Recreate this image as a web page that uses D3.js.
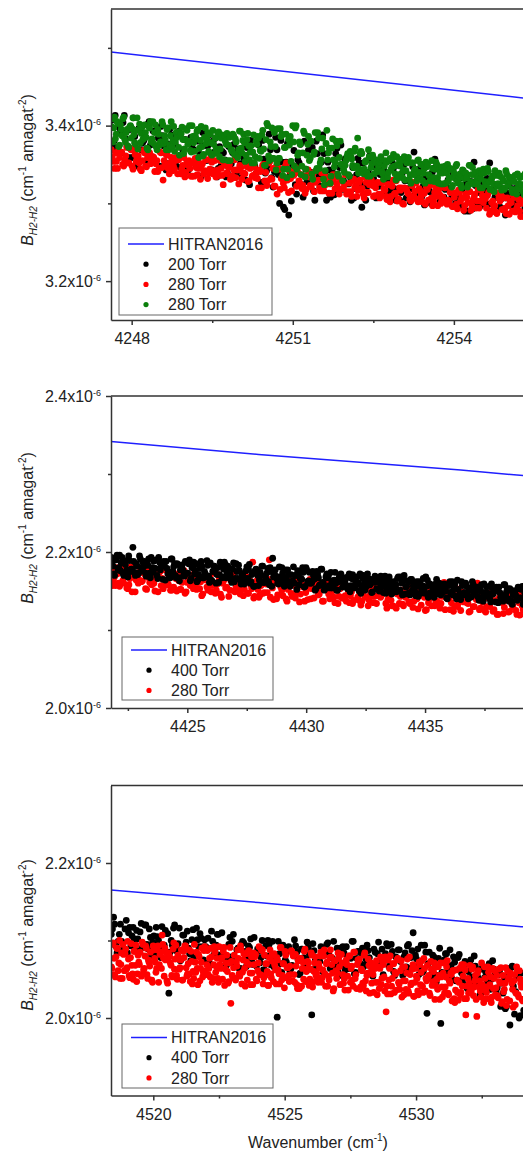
<!DOCTYPE html>
<html>
<head>
<meta charset="utf-8">
<script src="https://cdn.jsdelivr.net/npm/d3@7"></script>
<style>
  html, body { margin: 0; padding: 0; background: #fff; }
  svg { display: block; font-family: "Liberation Sans", Arial, sans-serif; }
</style>
</head>
<body>
<svg id="chart" width="523" height="1158"></svg>
<script>
// Pressure-broadening coefficients B(H2-H2), stored in units of 1e-9 cm^-1 amagat^-2.
// Each spectrum is sampled on a uniform wavenumber grid (start, step); the samples are
// kept as two arrays, the even-numbered points and the odd-numbered points.

// ---- Panel 1: 4248 cm^-1 region ----
const p1Start = 4247.62;
const p1Step200 = 0.0243, p1Step280a = 0.0193, p1Step280b = 0.0155;
const p1Torr200Even = [
  3407,3380,3368,3398,3365,3413,3374,3395,3359,3386,
  3348,3396,3378,3369,3402,3375,3393,3354,3384,3399,
  3374,3343,3376,3388,3357,3348,3393,3362,3382,3346,
  3352,3371,3383,3346,3363,3391,3341,3374,3355,3380,
  3384,3345,3348,3365,3334,3373,3351,3376,3339,3362,
  3333,3357,3372,3324,3366,3348,3378,3342,3381,3339,
  3349,3369,3321,3385,3337,3381,3295,3353,3285,3303,
  3368,3312,3352,3324,3380,3328,3340,3372,3304,3364,
  3322,3388,3336,3353,3308,3339,3364,3318,3375,3329,
  3358,3325,3304,3307,3337,3352,3295,3340,3322,3361,
  3324,3347,3309,3337,3351,3314,3329,3316,3344,3304,
  3334,3314,3349,3307,3329,3319,3366,3337,3344,3309,
  3298,3335,3315,3340,3357,3328,3303,3345,3318,3330,
  3318,3338,3300,3308,3333,3295,3325,3290,3328,3353,
  3297,3314,3328,3301,3332,3352,3317,3308,3323,3295,
  3315,3285,3313,3305,3293,3319,3299,3323,3289,3309
];
const p1Torr200Odd = [
  3374,3413,3365,3392,3404,3383,3359,3398,3410,3371,
  3396,3369,3381,3354,3405,3360,3393,3372,3348,3387,
  3365,3351,3396,3357,3376,3388,3346,3368,3382,3343,
  3385,3369,3349,3380,3335,3374,3355,3388,3343,3366,
  3334,3373,3367,3356,3339,3387,3365,3342,3370,3351,
  3360,3330,3372,3381,3348,3339,3375,3327,3357,3342,
  3389,3333,3341,3369,3300,3353,3292,3377,3337,3349,
  3324,3356,3376,3308,3344,3368,3340,3316,3380,3336,
  3353,3364,3304,3343,3329,3311,3371,3346,3318,3357,
  3313,3334,3346,3319,3358,3325,3352,3304,3340,3355,
  3332,3307,3322,3347,3342,3314,3324,3354,3319,3349,
  3304,3339,3329,3319,3302,3347,3312,3332,3342,3322,
  3333,3318,3300,3345,3310,3325,3340,3308,3320,3303,
  3308,3335,3330,3298,3318,3290,3325,3328,3293,3323,
  3330,3297,3310,3317,3299,3328,3290,3308,3323,3306,
  3293,3307,3323,3297,3319,3301,3311,3289,3295,3325
];
const p1Torr280aEven = [
  3369,3354,3365,3345,3359,3366,3348,3361,3352,3371,
  3348,3369,3354,3361,3344,3355,3365,3347,3359,3351,
  3360,3341,3355,3345,3365,3330,3351,3362,3338,3359,
  3348,3355,3338,3361,3344,3359,3340,3349,3345,3335,
  3335,3346,3353,3331,3351,3342,3356,3339,3358,3338,
  3355,3335,3336,3345,3324,3349,3338,3350,3332,3343,
  3333,3343,3349,3331,3339,3353,3328,3345,3335,3347,
  3340,3320,3341,3349,3329,3323,3352,3332,3345,3322,
  3312,3344,3332,3326,3348,3330,3342,3316,3336,3346,
  3340,3326,3319,3335,3318,3343,3323,3334,3315,3329,
  3330,3316,3339,3323,3333,3313,3327,3337,3319,3325,
  3312,3329,3319,3337,3315,3326,3309,3331,3323,3317,
  3330,3319,3307,3327,3314,3333,3323,3310,3326,3312,
  3312,3327,3317,3305,3324,3309,3330,3313,3303,3320,
  3320,3299,3319,3313,3305,3323,3309,3326,3302,3316,
  3302,3313,3321,3304,3324,3297,3314,3309,3318,3300,
  3308,3320,3299,3303,3317,3296,3313,3293,3314,3307,
  3291,3312,3301,3315,3297,3308,3294,3318,3303,3310,
  3306,3294,3314,3290,3303,3297,3287,3307,3311,3292,
  3294,3307,3286,3301,3310,3289,3297,3290,3305,3283
];
const p1Torr280aOdd = [
  3359,3345,3354,3368,3365,3350,3355,3372,3352,3369,
  3344,3363,3358,3352,3342,3368,3348,3359,3365,3354,
  3359,3351,3341,3366,3346,3355,3363,3345,3352,3342,
  3344,3359,3356,3338,3349,3334,3354,3355,3335,3352,
  3358,3337,3345,3349,3338,3356,3332,3344,3353,3342,
  3334,3343,3355,3336,3352,3339,3346,3331,3335,3356,
  3343,3325,3346,3339,3338,3347,3329,3350,3336,3333,
  3332,3343,3320,3350,3340,3329,3354,3331,3322,3347,
  3346,3318,3334,3320,3352,3314,3332,3340,3338,3322,
  3329,3337,3323,3313,3335,3334,3321,3339,3327,3343,
  3320,3339,3316,3329,3334,3325,3313,3332,3337,3319,
  3331,3319,3324,3312,3336,3315,3330,3320,3309,3327,
  3319,3312,3334,3314,3324,3330,3309,3320,3327,3307,
  3327,3319,3309,3324,3302,3322,3312,3329,3306,3317,
  3300,3320,3317,3312,3303,3327,3316,3305,3319,3309,
  3313,3299,3318,3323,3307,3303,3320,3297,3311,3304,
  3321,3301,3304,3314,3296,3308,3299,3317,3303,3307,
  3297,3308,3315,3291,3304,3312,3303,3294,3317,3301,
  3306,3310,3286,3301,3296,3289,3313,3303,3292,3307,
  3287,3297,3303,3290,3308,3293,3305,3283,3300,3307
];
const p1Torr280bEven = [
  3399,3379,3411,3389,3403,3375,3395,3409,3383,3391,
  3374,3398,3384,3410,3378,3394,3370,3402,3390,3382,
  3401,3385,3369,3397,3379,3405,3391,3373,3395,3375,
  3379,3401,3387,3369,3397,3375,3405,3381,3367,3391,
  3392,3362,3390,3382,3370,3396,3376,3400,3366,3386,
  3367,3383,3395,3371,3399,3361,3385,3377,3391,3365,
  3378,3394,3364,3370,3390,3360,3384,3356,3386,3376,
  3355,3385,3369,3389,3363,3379,3359,3393,3371,3381,
  3378,3362,3390,3356,3374,3366,3352,3380,3386,3358,
  3367,3394,3349,3382,3400,3355,3373,3358,3391,3343,
  3396,3358,3386,3336,3372,3389,3344,3375,3354,3400,
  3348,3400,3362,3379,3337,3365,3390,3344,3376,3355,
  3380,3331,3366,3342,3391,3345,3356,3384,3324,3377,
  3356,3371,3335,3383,3347,3380,3338,3359,3350,3329,
  3340,3355,3364,3335,3360,3349,3367,3346,3384,3344,
  3367,3342,3344,3355,3335,3360,3346,3362,3338,3353,
  3341,3353,3360,3338,3348,3365,3334,3355,3343,3358,
  3348,3330,3350,3357,3338,3333,3360,3342,3354,3331,
  3326,3352,3342,3337,3355,3340,3350,3329,3345,3353,
  3350,3336,3329,3345,3328,3353,3333,3344,3325,3339,
  3341,3326,3350,3333,3344,3323,3338,3348,3329,3334,
  3324,3343,3332,3339,3321,3349,3328,3346,3337,3325,
  3327,3342,3332,3320,3339,3324,3345,3328,3318,3335,
  3315,3336,3325,3339,3321,3332,3318,3342,3327,3334,
  3333,3314,3328,3318,3338,3319,3324,3335,3311,3332
];
const p1Torr280bOdd = [
  3409,3397,3383,3405,3373,3401,3387,3411,3379,3395,
  3372,3400,3396,3388,3376,3410,3394,3378,3398,3384,
  3391,3371,3399,3405,3383,3377,3401,3369,3389,3379,
  3405,3377,3381,3395,3369,3387,3373,3399,3379,3385,
  3372,3388,3398,3364,3382,3394,3380,3368,3400,3378,
  3387,3393,3359,3381,3373,3363,3397,3383,3367,3389,
  3362,3376,3384,3366,3392,3370,3388,3356,3380,3390,
  3375,3355,3367,3387,3383,3361,3369,3393,3365,3389,
  3354,3382,3374,3366,3352,3388,3360,3376,3384,3368,
  3388,3370,3349,3403,3361,3379,3397,3358,3373,3352,
  3358,3396,3389,3344,3372,3333,3382,3386,3337,3379,
  3397,3344,3365,3376,3348,3393,3334,3362,3386,3358,
  3338,3363,3391,3345,3384,3352,3370,3331,3342,3394,
  3365,3326,3371,3356,3353,3374,3335,3380,3350,3344,
  3349,3360,3337,3367,3357,3346,3371,3348,3339,3364,
  3364,3338,3353,3340,3369,3335,3351,3358,3356,3342,
  3348,3357,3341,3331,3355,3353,3340,3358,3346,3363,
  3338,3360,3333,3348,3355,3343,3330,3352,3359,3337,
  3352,3337,3344,3329,3356,3332,3350,3339,3326,3347,
  3337,3329,3355,3333,3344,3350,3326,3339,3347,3325,
  3348,3339,3329,3345,3321,3342,3332,3350,3326,3338,
  3320,3342,3339,3333,3324,3349,3337,3325,3340,3330,
  3334,3320,3339,3344,3328,3324,3341,3318,3332,3325,
  3342,3322,3325,3335,3317,3329,3320,3338,3324,3328,
  3318,3329,3336,3312,3325,3333,3324,3315,3338,3322
];
const hitranWn1 = [4247, 4250, 4253, 4256];
const hitranB1 = [3499.5, 3476.3, 3453.1, 3430.0];
const xTicks1 = [4248, 4251, 4254], xMinor1 = [4249.5, 4252.5];
const yTicks1 = [3200, 3400], yMinor1 = [3300, 3500];

// ---- Panel 2: 4430 cm^-1 region ----
const p2Start = 4421.8;
const p2Step400 = 0.035, p2Step280 = 0.04375;
const p2Torr400Even = [
  2193,2182,2170,2190,2177,2196,2186,2173,2189,2175,
  2168,2189,2178,2206,2174,2185,2171,2195,2180,2187,
  2188,2169,2183,2173,2193,2174,2179,2190,2166,2187,
  2181,2165,2182,2188,2172,2168,2191,2175,2185,2167,
  2184,2163,2183,2177,2169,2187,2173,2190,2166,2180,
  2172,2185,2164,2179,2188,2167,2175,2168,2183,2161,
  2164,2175,2182,2160,2180,2171,2185,2168,2187,2167,
  2182,2169,2164,2178,2162,2185,2166,2176,2159,2172,
  2159,2176,2166,2184,2162,2173,2156,2178,2170,2164,
  2170,2182,2161,2165,2179,2158,2175,2192,2176,2169,
  2160,2181,2166,2173,2156,2167,2177,2159,2171,2163,
  2160,2170,2176,2158,2166,2180,2155,2180,2162,2174,
  2160,2175,2165,2153,2172,2157,2178,2161,2151,2168,
  2167,2157,2174,2154,2164,2160,2151,2168,2172,2155,
  2161,2167,2153,2172,2157,2171,2154,2162,2159,2150,
  2147,2166,2159,2155,2172,2158,2165,2149,2161,2167,
  2162,2150,2169,2156,2164,2147,2159,2168,2152,2157,
  2149,2158,2166,2151,2168,2145,2170,2155,2163,2148,
  2165,2151,2161,2144,2156,2162,2147,2157,2150,2168,
  2164,2147,2148,2155,2142,2159,2149,2160,2145,2154,
  2159,2150,2140,2157,2146,2162,2153,2143,2164,2144,
  2139,2157,2148,2160,2144,2154,2142,2162,2149,2155,
  2155,2138,2150,2142,2159,2143,2147,2156,2136,2154,
  2149,2136,2151,2155,2142,2139,2158,2145,2153,2137,
  2151,2133,2150,2145,2138,2153,2141,2156,2135,2147
];
const p2Torr400Odd = [
  2186,2172,2191,2196,2180,2176,2193,2170,2184,2177,
  2195,2175,2178,2188,2170,2182,2173,2191,2177,2181,
  2173,2184,2191,2167,2180,2188,2179,2170,2193,2177,
  2184,2188,2164,2179,2174,2167,2191,2181,2170,2185,
  2167,2177,2183,2170,2188,2173,2185,2163,2180,2187,
  2176,2162,2171,2185,2182,2167,2172,2189,2169,2186,
  2163,2182,2177,2171,2161,2187,2167,2178,2184,2173,
  2179,2171,2161,2186,2166,2175,2183,2165,2172,2162,
  2166,2181,2178,2160,2171,2156,2176,2177,2157,2174,
  2182,2161,2169,2173,2162,2180,2156,2168,2177,2166,
  2159,2168,2180,2161,2177,2164,2171,2156,2160,2181,
  2170,2152,2173,2166,2165,2174,2156,2177,2163,2160,
  2161,2170,2151,2175,2167,2158,2178,2160,2153,2172,
  2170,2154,2163,2155,2174,2151,2162,2167,2166,2156,
  2161,2167,2156,2149,2166,2165,2155,2168,2160,2172,
  2154,2170,2151,2161,2166,2158,2148,2164,2169,2153,
  2165,2154,2159,2148,2169,2151,2164,2156,2146,2162,
  2155,2149,2168,2151,2160,2164,2146,2156,2162,2145,
  2165,2157,2149,2162,2143,2160,2151,2166,2147,2156,
  2142,2159,2157,2152,2145,2165,2155,2146,2158,2149,
  2153,2141,2158,2162,2149,2145,2159,2140,2152,2146,
  2162,2145,2148,2156,2140,2151,2143,2158,2146,2150,
  2142,2152,2158,2137,2148,2155,2147,2140,2159,2146,
  2152,2155,2135,2148,2143,2137,2158,2149,2140,2153,
  2137,2145,2150,2139,2155,2141,2152,2133,2147,2153
];
const p2Torr280Even = [
  2177,2163,2157,2172,2156,2180,2160,2171,2153,2166,
  2149,2173,2164,2160,2176,2163,2172,2152,2167,2175,
  2166,2150,2168,2174,2157,2153,2177,2160,2171,2151,
  2155,2166,2172,2152,2161,2176,2149,2167,2157,2170,
  2173,2152,2153,2162,2146,2167,2155,2168,2149,2161,
  2147,2159,2166,2142,2163,2154,2169,2151,2171,2150,
  2156,2164,2146,2170,2152,2168,2147,2158,2187,2143,
  2163,2142,2157,2147,2168,2148,2190,2165,2139,2162,
  2145,2167,2151,2158,2140,2152,2163,2143,2157,2148,
  2162,2146,2158,2137,2152,2159,2140,2153,2174,2164,
  2146,2160,2137,2154,2163,2140,2149,2142,2158,2134,
  2153,2141,2162,2137,2150,2144,2134,2155,2159,2138,
  2132,2154,2142,2157,2138,2150,2135,2160,2144,2151,
  2145,2157,2134,2139,2154,2131,2149,2128,2151,2143,
  2133,2145,2154,2136,2157,2129,2147,2140,2151,2132,
  2148,2125,2146,2140,2131,2151,2136,2154,2128,2143,
  2161,2150,2140,2126,2147,2131,2153,2135,2125,2143,
  2147,2135,2123,2144,2130,2150,2160,2126,2142,2127,
  2123,2141,2130,2150,2126,2138,2120,2144,2135,2129,
  2138,2123,2147,2130,2141,2120,2135,2145,2126,2132
];
const p2Torr280Odd = [
  2157,2168,2180,2160,2177,2163,2171,2154,2158,2181,
  2169,2149,2172,2164,2162,2173,2153,2176,2161,2158,
  2160,2169,2149,2175,2166,2157,2178,2158,2151,2172,
  2172,2150,2163,2152,2176,2147,2161,2167,2166,2153,
  2159,2167,2153,2144,2165,2164,2151,2168,2157,2173,
  2151,2171,2146,2160,2166,2155,2143,2163,2169,2149,
  2165,2151,2158,2144,2170,2147,2164,2153,2141,2161,
  2152,2145,2169,2148,2159,2165,2142,2154,2162,2140,
  2164,2155,2144,2161,2137,2158,2147,2166,2141,2154,
  2136,2158,2155,2148,2139,2165,2153,2141,2156,2145,
  2152,2137,2158,2163,2146,2141,2160,2135,2151,2143,
  2162,2141,2144,2155,2135,2149,2138,2158,2142,2147,
  2137,2150,2157,2131,2145,2154,2143,2134,2159,2142,
  2149,2154,2128,2145,2138,2131,2157,2146,2134,2151,
  2131,2142,2148,2134,2154,2137,2151,2127,2145,2153,
  2142,2126,2135,2151,2148,2131,2137,2155,2134,2152,
  2126,2147,2141,2135,2124,2152,2130,2143,2149,2136,
  2144,2134,2124,2151,2130,2139,2148,2128,2136,2125,
  2130,2147,2144,2124,2137,2120,2141,2143,2121,2140,
  2147,2124,2133,2138,2125,2145,2119,2131,2142,2130
];
const hitranWn2 = [4420, 4428, 4436.5, 4441];
const hitranB2 = [2346.6, 2325.0, 2305.0, 2293.0];
const xTicks2 = [4425, 4430, 4435], xMinor2 = [4422.5, 4427.5, 4432.5, 4437.5];
const yTicks2 = [2000, 2200, 2400], yMinor2 = [2100, 2300];

// ---- Panel 3: 4525 cm^-1 region ----
const p3Start = 4518.4;
const p3Step400 = 0.04385, p3Step280 = 0.02615;
const p3Torr400Even = [
  2108,2130,2093,2099,2121,2088,2115,2084,2117,2106,
  2102,2113,2087,2122,2095,2120,2089,2104,2098,2082,
  2105,2083,2118,2094,2109,2032,2100,2116,2087,2096,
  2074,2107,2090,2112,2083,2101,2079,2116,2092,2103,
  2075,2092,2103,2068,2099,2086,2108,2081,2110,2079,
  2068,2095,2079,2108,2073,2090,2064,2099,2086,2077,
  2091,2073,2104,2067,2086,2078,2062,2093,2100,2069,
  2099,2068,2001,2083,2059,2090,2072,2092,2064,2081,
  2093,2076,2058,2089,2069,2098,2082,2004,2087,2065,
  2073,2092,2059,2084,2097,2064,2077,2066,2090,2055,
  2068,2084,2092,2064,2077,2099,2059,2086,2070,2090,
  2069,2094,2078,2058,2089,2065,2098,2072,2056,2083,
  2093,2068,2086,2055,2077,2088,2060,2079,2066,2095,
  2078,2110,2081,2089,2065,2059,2094,2006,2085,2056,
  2079,2046,2077,1993,2055,2083,2061,2088,2050,2072,
  2049,2082,2058,2069,2042,2060,2075,2047,2067,2053,
  2030,2065,2052,2045,2070,2050,2063,2034,2056,2015,
  2032,2012,2063,1991,2067,2005,2052,2000,2058,2010
];
const p3Torr400Odd = [
  2115,2121,2084,2108,2099,2088,2126,2110,2093,2117,
  2087,2102,2111,2091,2120,2095,2115,2080,2106,2117,
  2100,2078,2091,2113,2109,2085,2094,2120,2089,2116,
  2076,2107,2098,2090,2074,2114,2083,2101,2109,2092,
  2101,2088,2072,2112,2081,2094,2108,2079,2090,2075,
  2079,2104,2099,2071,2088,2064,2095,2097,2066,2093,
  2102,2069,2082,2089,2071,2100,2062,2080,2095,2078,
  2066,2081,2099,2070,2094,2075,2086,2061,2068,2101,
  2085,2056,2089,2078,2076,2091,2063,2096,2074,2069,
  2073,2086,2057,2095,2081,2068,2099,2070,2059,2090,
  2092,2062,2079,2064,2099,2057,2077,2086,2084,2066,
  2076,2087,2067,2054,2085,2083,2065,2089,2074,2096,
  2066,2095,2060,2079,2088,2073,2055,2084,2093,2064,
  2087,2067,2076,2056,2094,2061,2085,2070,2052,2081,
  2066,2055,2090,2059,2075,2083,2050,2068,2079,2048,
  2078,2064,2049,2073,2038,2069,2053,2080,2045,2062,
  2032,2063,2059,2050,2037,2074,2056,2039,2061,2045,
  2049,2015,2058,2065,2041,2034,2060,2003,2047,2008
];
const p3Torr280Even = [
  2066,2095,2077,2053,2090,2061,2100,2069,2051,2082,
  2083,2063,2099,2055,2078,2068,2050,2086,2094,2057,
  2072,2085,2054,2095,2064,2093,2056,2075,2067,2049,
  2046,2088,2072,2064,2093,2069,2085,2107,2077,2090,
  2084,2045,2081,2071,2055,2089,2063,2094,2050,2076,
  2065,2088,2049,2078,2093,2054,2070,2057,2086,2044,
  2051,2072,2085,2043,2079,2064,2090,2059,2092,2056,
  2087,2064,2053,2079,2051,2092,2059,2077,2046,2069,
  2076,2050,2091,2063,2081,2045,2071,2019,2055,2065,
  2051,2072,2088,2057,2093,2044,2075,2064,2083,2049,
  2087,2058,2079,2043,2069,2082,2048,2071,2056,2089,
  2088,2052,2055,2070,2042,2078,2057,2081,2047,2068,
  2044,2075,2057,2091,2049,2070,2039,2081,2065,2055,
  2067,2087,2048,2056,2082,2043,2074,2038,2077,2064,
  2050,2089,2060,2073,2042,2063,2081,2047,2071,2055,
  2052,2070,2080,2046,2062,2088,2041,2072,2054,2078,
  2079,2058,2038,2074,2051,2084,2066,2043,2071,2045,
  2036,2075,2054,2080,2046,2067,2041,2085,2056,2069,
  2074,2037,2063,2045,2081,2048,2055,2076,2032,2071,
  2061,2033,2064,2074,2046,2038,2079,2051,2069,2035,
  2008,2031,2049,2080,2041,2070,2033,2057,2075,2046,
  2037,2074,2066,2030,2048,2058,2035,2079,2043,2063,
  2028,2046,2054,2035,2072,2043,2074,2033,2064,2051,
  2068,2055,2029,2063,2047,2071,2042,2050,2066,2024,
  2053,2027,2071,2040,2066,2032,2048,2058,2022,2061,
  2020,2062,2033,2046,2030,2069,2054,2025,2004,2041,
  2032,2068,2035,2066,2040,2055,2002,2061,2048,2027,
  2043,2020,2051,2033,2066,2025,2053,2027,2038,2061,
  2039,2029,2063,2045,2019,2055,2037,2065,2024,2050,
  2022,2056,2037,2048,2017,2066,2030,2061,2045,2024
];
const p3Torr280Odd = [
  2064,2097,2056,2079,2090,2071,2051,2084,2095,2061,
  2089,2065,2076,2052,2096,2057,2086,2068,2047,2081,
  2069,2056,2098,2062,2080,2090,2051,2072,2085,2049,
  2093,2077,2059,2088,2046,2082,2064,2095,2054,2075,
  2048,2084,2079,2068,2053,2097,2076,2055,2081,2063,
  2075,2049,2086,2093,2065,2057,2088,2047,2073,2060,
  2095,2059,2064,2082,2048,2072,2053,2087,2061,2069,
  2056,2077,2090,2046,2069,2085,2066,2051,2092,2064,
  2078,2086,2042,2071,2060,2047,2091,2073,2052,2081,
  2049,2067,2077,2054,2088,2059,2083,2041,2072,2085,
  2069,2043,2058,2084,2079,2050,2061,2092,2056,2087,
  2044,2081,2070,2060,2042,2088,2052,2073,2083,2062,
  2078,2062,2044,2091,2055,2070,2086,2052,2065,2047,
  2056,2085,2080,2046,2067,2038,2074,2077,2041,2072,
  2086,2047,2063,2071,2050,2084,2040,2060,2079,2058,
  2046,2065,2085,2052,2080,2057,2070,2041,2049,2088,
  2069,2035,2074,2061,2058,2077,2043,2082,2056,2051,
  2054,2069,2036,2080,2064,2049,2085,2051,2038,2075,
  2076,2040,2061,2042,2084,2035,2058,2068,2066,2045,
  2056,2069,2046,2030,2066,2064,2043,2072,2053,2079,
  2041,2075,2064,2031,2051,2070,2059,2036,2077,2044,
  2061,2027,2048,2066,2037,2076,2032,2056,2045,2069,
  2028,2064,2051,2030,2069,2059,2041,2077,2035,2048,
  2053,2032,2073,2042,2060,2024,2066,2037,2055,2071,
  2040,2058,2032,2053,2074,2030,2045,2056,2061,2025,
  2036,2049,2023,2064,2033,2041,2069,2062,2025,2051,
  2045,2037,2063,2029,2048,2024,2058,2040,2035,2071,
  2038,2066,2025,2040,2059,2043,2020,2064,2051,2030,
  2055,2026,2047,2065,2021,2034,2045,2016,2060,2052,
  2058,2045,2014,2056,2032,2061,2027,2050,2040,2022
];
const hitranWn3 = [4518, 4524, 4534, 4536];
const hitranB3 = [2166.3, 2149.0, 2117.8, 2111.8];
const xTicks3 = [4520, 4525, 4530], xMinor3 = [4522.5, 4527.5, 4532.5];
const yTicks3 = [2000, 2200], yMinor3 = [2100];

const hitranLabel = "HITRAN2016";

// ---- Layout ----
const BLUE = "#1f1fff", RED = "#ff0000", GREEN = "#0b7f0b", BLACK = "#000000";
const AXIS = "#333", TEXT = "#222";
const left = 111, right = 528;

// rebuild the full sample sequence from its even and odd halves
function interleave(even, odd) {
  const out = [];
  even.forEach((v, i) => { out.push(v); if (i < odd.length) out.push(odd[i]); });
  return out;
}

const panels = [
  {
    top: 9, bottom: 320, xDomain: [4247.615, 4255.38], yDomain: [3150, 3550],
    xMajor: xTicks1, xMinor: xMinor1, yMajor: yTicks1, yMinor: yMinor1,
    hitran: [hitranWn1, hitranB1],
    series: [
      { label: "200 Torr", color: BLACK, start: p1Start, step: p1Step200, values: interleave(p1Torr200Even, p1Torr200Odd) },
      { label: "280 Torr", color: RED, start: p1Start, step: p1Step280a, values: interleave(p1Torr280aEven, p1Torr280aOdd) },
      { label: "280 Torr", color: GREEN, start: p1Start, step: p1Step280b, values: interleave(p1Torr280bEven, p1Torr280bOdd) }
    ],
    order: [0, 1, 2],
    legend: { x: 119, y: 228, w: 153, h: 87, first: 16 },
    titleY: 170
  },
  {
    top: 396, bottom: 708, xDomain: [4421.79, 4439.33], yDomain: [2000, 2400],
    xMajor: xTicks2, xMinor: xMinor2, yMajor: yTicks2, yMinor: yMinor2,
    hitran: [hitranWn2, hitranB2],
    series: [
      { label: "400 Torr", color: BLACK, start: p2Start, step: p2Step400, values: interleave(p2Torr400Even, p2Torr400Odd) },
      { label: "280 Torr", color: RED, start: p2Start, step: p2Step280, values: interleave(p2Torr280Even, p2Torr280Odd) }
    ],
    order: [1, 0],
    legend: { x: 122, y: 637, w: 151, h: 63, first: 13 },
    titleY: 528
  },
  {
    top: 785.5, bottom: 1095.5, xDomain: [4518.39, 4534.26], yDomain: [1900, 2300],
    xMajor: xTicks3, xMinor: xMinor3, yMajor: yTicks3, yMinor: yMinor3,
    hitran: [hitranWn3, hitranB3],
    series: [
      { label: "400 Torr", color: BLACK, start: p3Start, step: p3Step400, values: interleave(p3Torr400Even, p3Torr400Odd) },
      { label: "280 Torr", color: RED, start: p3Start, step: p3Step280, values: interleave(p3Torr280Even, p3Torr280Odd) }
    ],
    order: [0, 1],
    legend: { x: 122, y: 1024, w: 151, h: 64, first: 13.5 },
    titleY: 935
  }
];

const svg = d3.select("#chart");
const defs = svg.append("defs");

function styleAxis(sel) {
  sel.attr("font-size", 16).attr("font-family", "'Liberation Sans', Arial, sans-serif");
  sel.selectAll("path, line").attr("stroke", AXIS).attr("stroke-width", 1.5);
  sel.selectAll("text").attr("fill", TEXT);
}

panels.forEach((p, pi) => {
  const x = d3.scaleLinear().domain(p.xDomain).range([left, right]);
  const y = d3.scaleLinear().domain(p.yDomain).range([p.bottom, p.top]);
  const g = svg.append("g");

  const clipId = "plot-clip-" + pi;
  defs.append("clipPath").attr("id", clipId)
    .append("rect").attr("x", left).attr("y", p.top)
    .attr("width", right - left).attr("height", p.bottom - p.top);

  // scatter series and reference line
  const plot = g.append("g").attr("clip-path", `url(#${clipId})`);
  p.order.forEach(si => {
    const s = p.series[si];
    plot.append("g").attr("fill", s.color)
      .selectAll("circle").data(s.values).join("circle")
      .attr("cx", (v, i) => x(s.start + i * s.step))
      .attr("cy", v => y(v))
      .attr("r", 3.4);
  });
  const hitranPts = p.hitran[0].map((w, i) => [w, p.hitran[1][i]]);
  plot.append("path")
    .attr("d", d3.line().x(d => x(d[0])).y(d => y(d[1]))(hitranPts))
    .attr("fill", "none").attr("stroke", BLUE).attr("stroke-width", 1.5);

  // frame: top and right edges
  g.append("path")
    .attr("d", `M${left},${p.top}H${right}V${p.bottom}`)
    .attr("fill", "none").attr("stroke", AXIS).attr("stroke-width", 1.5);

  // x axis
  const gx = g.append("g").attr("transform", `translate(0,${p.bottom})`)
    .call(d3.axisBottom(x).tickValues(p.xMajor).tickSize(5).tickSizeOuter(0).tickFormat(d3.format("d")));
  gx.selectAll(".tick text").attr("y", 13).attr("dy", "0.71em");
  const gxm = g.append("g").attr("transform", `translate(0,${p.bottom})`)
    .call(d3.axisBottom(x).tickValues(p.xMinor).tickSize(3).tickFormat(""));
  gxm.select(".domain").remove();
  styleAxis(gx); styleAxis(gxm);

  // y axis
  const gy = g.append("g").attr("transform", `translate(${left},0)`)
    .call(d3.axisLeft(y).tickValues(p.yMajor).tickSize(5).tickPadding(5).tickSizeOuter(0));
  gy.selectAll(".tick text").each(function (d) {
    const t = d3.select(this).text(null);
    t.append("tspan").text((d / 1000).toFixed(1) + "x10");
    t.append("tspan").attr("dy", -6).attr("font-size", 9).text("-6");
  });
  const gym = g.append("g").attr("transform", `translate(${left},0)`)
    .call(d3.axisLeft(y).tickValues(p.yMinor).tickSize(3).tickFormat(""));
  gym.select(".domain").remove();
  styleAxis(gy); styleAxis(gym);

  // y axis title
  const t = svg.append("text")
    .attr("transform", `translate(33,${p.titleY}) rotate(-90)`)
    .attr("text-anchor", "middle").attr("font-size", 16).attr("fill", TEXT);
  t.append("tspan").attr("font-style", "italic").text("B");
  t.append("tspan").attr("font-style", "italic").attr("font-size", 10).attr("dy", 4).text("H2-H2");
  t.append("tspan").attr("dy", -4).text(" (cm");
  t.append("tspan").attr("font-size", 10).attr("dy", -7).text("-1");
  t.append("tspan").attr("dy", 7).text(" amagat");
  t.append("tspan").attr("font-size", 10).attr("dy", -7).text("-2");
  t.append("tspan").attr("dy", 7).text(")");

  // legend
  const L = p.legend;
  const lg = g.append("g");
  lg.append("rect").attr("x", L.x).attr("y", L.y).attr("width", L.w).attr("height", L.h)
    .attr("fill", "#fff").attr("stroke", "#666").attr("stroke-width", 1);
  const entries = [{ label: hitranLabel, line: true, color: BLUE }]
    .concat(p.series.map(s => ({ label: s.label, line: false, color: s.color })));
  entries.forEach((e, i) => {
    const cy = L.y + L.first + i * 20.2;
    if (e.line) {
      lg.append("line").attr("x1", L.x + 9).attr("x2", L.x + 45).attr("y1", cy).attr("y2", cy)
        .attr("stroke", e.color).attr("stroke-width", 1.5);
    } else {
      lg.append("circle").attr("cx", L.x + 27).attr("cy", cy).attr("r", 2.6).attr("fill", e.color);
    }
    lg.append("text").attr("x", L.x + 49).attr("y", cy + 5.6)
      .attr("font-size", 16).attr("fill", TEXT).text(e.label);
  });
});

// shared x axis title
const xt = svg.append("text").attr("x", 318).attr("y", 1148)
  .attr("text-anchor", "middle").attr("font-size", 16).attr("fill", TEXT);
xt.append("tspan").text("Wavenumber (cm");
xt.append("tspan").attr("font-size", 10).attr("dy", -7).text("-1");
xt.append("tspan").attr("dy", 7).text(")");
</script>
</body>
</html>
